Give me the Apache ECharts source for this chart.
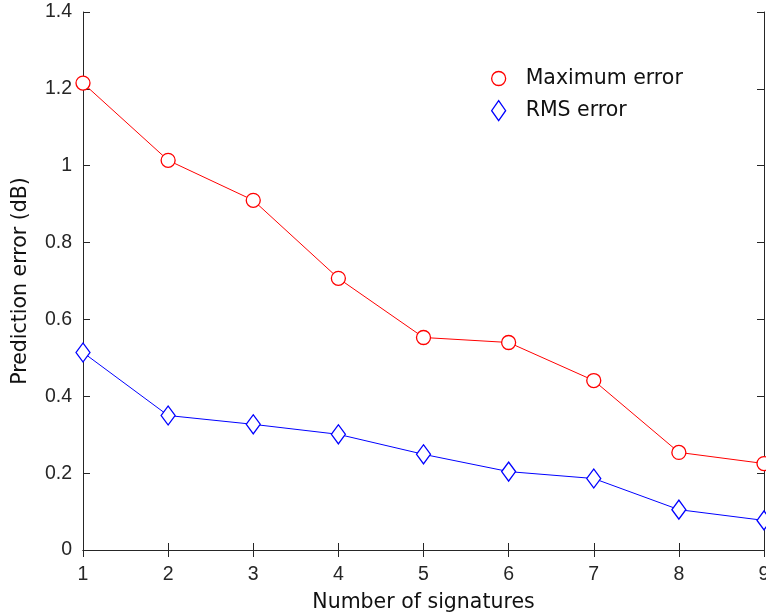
<!DOCTYPE html>
<html><head><meta charset="utf-8">
<script src="https://cdn.jsdelivr.net/npm/echarts@6/dist/echarts.min.js"></script>
<style>html,body{margin:0;padding:0;background:#fff;overflow:hidden}#c{width:766px;height:613px}</style>
</head><body><div id="c"></div>
<script>
const categories = [1, 2, 3, 4, 5, 6, 7, 8, 9];
const maxError = [1.215, 1.014, 0.910, 0.707, 0.553, 0.540, 0.441, 0.254, 0.225];
const rmsError = [0.514, 0.350, 0.327, 0.301, 0.249, 0.204, 0.186, 0.105, 0.077];
const yTicks = [0, 0.2, 0.4, 0.6, 0.8, 1, 1.2, 1.4];

const font = "'DejaVu Sans', sans-serif";
const tickFont = "'Liberation Sans', Helvetica, Arial, sans-serif";
const axisColor = '#262626';
const chart = echarts.init(document.getElementById('c'));
const common = {
  axisLine: {show: true, lineStyle: {color: axisColor, width: 1}},
  axisTick: {show: true, inside: true, length: 7, lineStyle: {color: axisColor}},
  splitLine: {show: false}
};
chart.setOption({
  animation: false,
  grid: {left: 83, right: 2, top: 12, bottom: 63, containLabel: false, outerBoundsMode: 'none'},
  xAxis: [
    Object.assign({type: 'value', min: 1, max: 9, interval: 1,
      name: 'Number of signatures', nameLocation: 'middle', nameGap: 42,
      nameTextStyle: {fontFamily: font, fontSize: 20.5, color: '#111'},
      axisLabel: {fontFamily: tickFont, fontSize: 19.5, color: axisColor, margin: 15}}, common),
    Object.assign({type: 'value', min: 1, max: 9, interval: 1, position: 'top',
      axisLabel: {show: false}}, common)
  ],
  yAxis: [
    Object.assign({type: 'value', min: 0, max: 1.4, interval: 0.2,
      name: 'Prediction error (dB)', nameLocation: 'middle', nameGap: 52,
      nameTextStyle: {fontFamily: font, fontSize: 20.5, color: '#111'},
      axisLabel: {fontFamily: tickFont, fontSize: 19.5, color: axisColor, margin: 11,
        formatter: v => { const t = yTicks.find(x => Math.abs(x - v) < 1e-9); return t === undefined ? '' : String(t); }}}, common),
    Object.assign({type: 'value', min: 0, max: 1.4, interval: 0.2, position: 'right',
      axisLabel: {show: false}}, common)
  ],
  legend: [
    {data: [{name: 'Maximum error', icon: 'circle', itemStyle: {color: '#fff', borderColor: '#ff0000', borderWidth: 1.3}}],
     left: 491, top: 68, itemWidth: 14, itemHeight: 14, padding: 0,
     textStyle: {fontFamily: font, fontSize: 20.5, color: '#111', padding: [0, 0, 0, 15]}, selectedMode: false},
    {data: [{name: 'RMS error', icon: 'diamond', itemStyle: {color: '#fff', borderColor: '#0000ff', borderWidth: 1.3}}],
     left: 491, top: 100, itemWidth: 14, itemHeight: 20, padding: 0,
     textStyle: {fontFamily: font, fontSize: 20.5, color: '#111', padding: [0, 0, 0, 15]}, selectedMode: false}
  ],
  series: [
    {name: 'Maximum error', type: 'line', clip: false,
     data: categories.map((c, i) => [c, maxError[i]]),
     symbol: 'circle', symbolSize: 14,
     itemStyle: {color: '#fff', borderColor: '#ff0000', borderWidth: 1.3},
     lineStyle: {color: '#ff0000', width: 1}},
    {name: 'RMS error', type: 'line', clip: false,
     data: categories.map((c, i) => [c, rmsError[i]]),
     symbol: 'diamond', symbolSize: [14, 19],
     itemStyle: {color: '#fff', borderColor: '#0000ff', borderWidth: 1.3},
     lineStyle: {color: '#0000ff', width: 1}}
  ]
});
</script></body></html>
